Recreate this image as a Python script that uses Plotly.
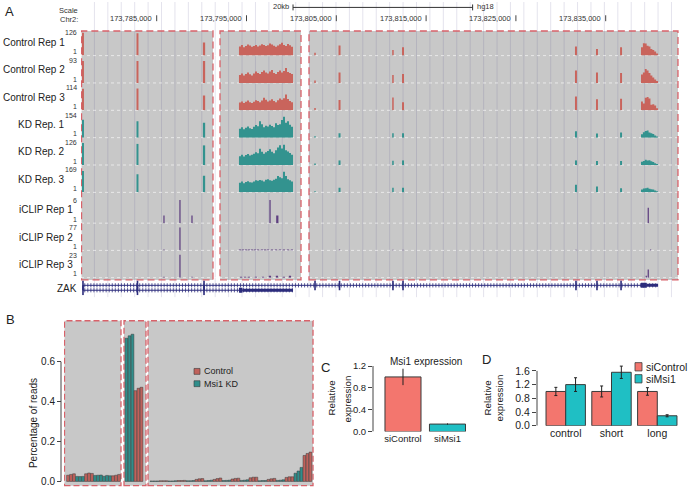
import numpy as np
import plotly.graph_objects as go

W, H = 693, 493
FONT = "Liberation Sans, Arial, Helvetica, sans-serif"

# ======================= DATA =======================
# ---- Panel A : UCSC-style coverage tracks (hg18 chr2, kb) ----
track_names = ["Control Rep 1", "Control Rep 2", "Control Rep 3",
               "KD Rep. 1", "KD Rep. 2", "KD Rep. 3",
               "iCLIP Rep 1", "iCLIP Rep 2", "iCLIP Rep 3"]
track_max = [126, 93, 114, 154, 126, 169, 6, 77, 23]

small_exon_kb = [173776.79, 173782.86, 173790.27, 173802.63, 173805.36,
                 173811.31, 173812.43, 173831.69, 173834.03, 173836.71]
small_exon_w_kb = [0.22, 0.22, 0.25, 0.17, 0.22, 0.17, 0.22, 0.22, 0.22, 0.22]
big_exon_kb = [173794.16, 173800.18]
last_exon_kb = [173838.93, 173840.83]

ctrl1_small = [126, 122, 72, 15, 55, 30, 45, 50, 36, 45]
ctrl2_small = [88, 88, 88, 10, 42, 32, 36, 50, 42, 40]
ctrl3_small = [106, 108, 73, 12, 51, 63, 40, 68, 55, 57]
kd1_small = [120, 110, 99, 10, 30, 30, 30, 43, 28, 34]
kd2_small = [120, 115, 107, 8, 25, 23, 25, 25, 22, 22]
kd3_small = [157, 133, 122, 8, 34, 34, 34, 55, 42, 30]

ctrl1_big = [50, 58, 46, 52, 60, 55, 48, 52, 58, 50, 55, 62, 58, 52, 56, 66, 60, 54, 48, 55, 62, 70, 58, 52, 64, 56, 48]
ctrl2_big = [32, 38, 30, 36, 42, 35, 30, 38, 46, 40, 36, 44, 50, 42, 38, 46, 52, 40, 36, 44, 50, 42, 48, 60, 44, 40, 36]
ctrl3_big = [38, 44, 36, 42, 48, 40, 36, 42, 50, 46, 40, 48, 62, 52, 44, 48, 54, 46, 40, 50, 58, 52, 60, 78, 56, 46, 40]
kd1_big = [60, 70, 56, 66, 74, 62, 58, 72, 84, 76, 110, 90, 70, 80, 74, 86, 78, 70, 96, 84, 90, 118, 140, 100, 110, 86, 72]
kd2_big = [48, 56, 46, 54, 60, 52, 56, 62, 70, 64, 88, 72, 62, 70, 76, 86, 72, 64, 80, 96, 108, 90, 110, 80, 74, 66, 56]
kd3_big = [70, 80, 66, 76, 82, 74, 72, 80, 88, 84, 90, 86, 80, 92, 96, 88, 84, 92, 100, 120, 110, 104, 150, 120, 96, 88, 80]

ctrl1_last = [46, 68, 66, 54, 50, 36, 30, 22, 12]
ctrl2_last = [34, 42, 56, 50, 40, 30, 22, 14, 8]
ctrl3_last = [44, 34, 62, 66, 58, 28, 30, 24, 10]
kd1_last = [22, 36, 44, 48, 34, 30, 24, 14, 8]
kd2_last = [18, 22, 28, 24, 26, 20, 16, 10, 6]
kd3_last = [20, 28, 30, 34, 26, 22, 20, 14, 8]

clip1_kb = [173785.81, 173787.59, 173788.93, 173797.62, 173798.43, 173839.74]
clip1_counts = [2, 6, 2, 6, 2, 4]
clip2_kb = [173782.86, 173785.81, 173787.59,
            173794.27, 173794.60, 173794.94, 173795.27, 173795.61, 173795.94, 173796.28,
            173796.72, 173797.06, 173797.39, 173797.84, 173798.28, 173798.73, 173799.17,
            173799.62, 173800.06, 173805.36, 173811.31, 173812.43, 173831.69, 173840.0]
clip2_counts = [2, 3, 77, 3, 3, 3, 3, 3, 3, 3, 3, 3, 3, 3, 3, 3, 3, 3, 3, 3, 2, 2, 2, 3]
clip3_kb = [173785.81, 173787.59, 173788.93,
            173794.38, 173794.83, 173795.27, 173796.05, 173796.83, 173797.61, 173798.39,
            173799.17, 173799.84, 173839.52, 173839.74]
clip3_counts = [1, 23, 1, 1, 1, 1, 1, 1, 2, 2, 1, 2, 2, 8]

gene_name = "ZAK"
tx1_span_kb = [173776.79, 173840.83]
tx1_exon_kb = small_exon_kb
tx1_cds_kb = [173838.93, 173839.55]
tx1_utr_kb = [173839.55, 173840.83]
tx2_span_kb = [173776.79, 173800.18]
tx2_exon_kb = small_exon_kb[:3]
tx2_cds_kb = [173794.16, 173794.55]
tx2_utr_kb = [173794.55, 173800.18]

pos_ticks_kb = [173785, 173795, 173805, 173815, 173825, 173835]
highlight_kb = [(173776.63, 173791.27), (173792.05, 173801.07), (173801.96, 173843.05)]
scale_start_kb, scale_len_kb = 173800.18, 20

# ---- Panel B : percentage of reads per exon (13 exons x 3 reps) ----
b_box_of_exon = [0, 0, 0, 1, 2, 2, 2, 2, 2, 2, 2, 2, 2]
b_ctrl = [[0.031, 0.035, 0.038], [0.038, 0.042, 0.040], [0.028, 0.031, 0.035],
          [0.455, 0.467, 0.472], [0.003, 0.003, 0.003], [0.004, 0.004, 0.005],
          [0.010, 0.013, 0.014], [0.010, 0.014, 0.017], [0.012, 0.015, 0.016],
          [0.018, 0.021, 0.021], [0.010, 0.013, 0.015], [0.020, 0.023, 0.023],
          [0.130, 0.140, 0.147]]
b_kd = [[0.025, 0.024, 0.025], [0.030, 0.031, 0.032], [0.026, 0.030, 0.028],
        [0.718, 0.730, 0.738], [0.002, 0.002, 0.002], [0.002, 0.002, 0.003],
        [0.003, 0.003, 0.004], [0.003, 0.004, 0.006], [0.004, 0.005, 0.006],
        [0.005, 0.006, 0.008], [0.003, 0.004, 0.004], [0.005, 0.006, 0.008],
        [0.041, 0.052, 0.070]]
b_ctrl_first = [True, True, False] + [False] * 10
b_yticks = [0.0, 0.2, 0.4, 0.6]
b_legend = ["Control", "Msi1 KD"]

# ---- Panel C ----
c_labels = ["siControl", "siMsi1"]
c_vals = [1.0, 0.138]
c_err = [0.15, 0.012]
c_yticks = [0.0, 0.4, 0.8, 1.2]

# ---- Panel D ----
d_groups = ["control", "short", "long"]
d_sicontrol = [1.0, 1.0, 1.0]
d_sicontrol_err = [0.12, 0.16, 0.11]
d_simsi1 = [1.2, 1.56, 0.29]
d_simsi1_err = [0.2, 0.18, 0.03]
d_yticks = [0.0, 0.4, 0.8, 1.2, 1.6]
d_legend = ["siControl", "siMsi1"]

# ======================= STYLE / HELPERS =======================
CTRL = "#c9645c"
KD = "#33938f"
CLIP = "#5e3f80"
NAVY = "#2c2c7c"
BOXGRAY = "#c8c8c8"
BORDER = "#d8626a"
B_RED = "#c0615b"
B_TEAL = "#2f8e8b"
SAL = "#f3766e"
CYAN = "#1fbfc4"
TXT = "#222222"


def PX(px):
    return px / W


def PY(py):
    return 1 - py / H


fig = go.Figure()
shapes = []
ann = []
lay = {}


def label(px, py, s, size, xanchor="center", yanchor="middle", color=TXT, angle=0):
    ann.append(dict(x=PX(px), y=PY(py), xref="paper", yref="paper", text=s, showarrow=False,
                    font=dict(family=FONT, size=size, color=color), xanchor=xanchor,
                    yanchor=yanchor, textangle=angle, borderpad=0))


def yname(i):
    return "yaxis" if i == 1 else "yaxis%d" % i


def yref(i):
    return "y" if i == 1 else "y%d" % i


# ======================= PANEL A =======================
A_X0, A_X1 = 81, 681
KB_PER_PX = 0.11136
kb_left = 173776.57
kb_right = kb_left + (A_X1 - A_X0) * KB_PER_PX
GUIDE_KB = 13.42 * KB_PER_PX
baselines = [54.5, 82.3, 110.1, 137.9, 165.7, 193.5, 224.8, 252.5, 280.2]
TRK_H = 23.5

lay["xaxis"] = dict(domain=[PX(A_X0), PX(A_X1)], range=[kb_left, kb_right], visible=False, anchor="y")
for i in range(9):
    lay[yname(i + 1)] = dict(domain=[PY(baselines[i]), PY(baselines[i] - TRK_H)],
                             range=[0, track_max[i]], visible=False, anchor="x")
lay[yname(10)] = dict(domain=[PY(298), PY(283)], range=[-1, 2], visible=False, anchor="x")

# highlight boxes, guide lines, dashed borders
for a, b in highlight_kb:
    shapes.append(dict(type="rect", xref="x", yref="paper", x0=a, x1=b, y0=PY(282.5), y1=PY(29.5),
                       fillcolor=BOXGRAY, line=dict(width=0), layer="below"))
n_guides = int((kb_right - kb_left) / GUIDE_KB)
for k in range(1, n_guides + 1):
    gx = kb_left + k * GUIDE_KB
    shapes.append(dict(type="line", xref="x", yref="paper", x0=gx, x1=gx, y0=PY(300), y1=PY(0),
                       line=dict(color="rgba(90,80,140,0.16)", width=1), layer="below"))
for bl in baselines:
    shapes.append(dict(type="line", xref="paper", yref="paper", x0=PX(A_X0), x1=PX(A_X1),
                       y0=PY(bl), y1=PY(bl),
                       line=dict(color="rgba(255,255,255,0.6)", width=1, dash="3px,3px"), layer="below"))
for a, b in highlight_kb:
    shapes.append(dict(type="rect", xref="x", yref="paper", x0=a, x1=b, y0=PY(282.5), y1=PY(29.5),
                       fillcolor="rgba(0,0,0,0)", line=dict(color=BORDER, width=1.3, dash="7px,4px"),
                       layer="below"))

# header: scale and positions
label(9.5, 9.5, "A", 13)
label(79, 9, "Scale", 7.5, xanchor="right", color="#333")
label(79, 17.5, "Chr2:", 7.5, xanchor="right", color="#333")
for k in pos_ticks_kb:
    shapes.append(dict(type="line", xref="x", yref="paper", x0=k, x1=k, y0=PY(19.5), y1=PY(13.5),
                       line=dict(color="#444", width=1)))
    ann.append(dict(x=k, y=PY(16.5), xref="x", yref="paper", text="{:,}".format(int(k * 1000)),
                    showarrow=False, xanchor="right", yanchor="middle", xshift=-2.5,
                    font=dict(family=FONT, size=7.5, color="#333")))
s0, s1 = scale_start_kb, scale_start_kb + scale_len_kb
shapes.append(dict(type="line", xref="x", yref="paper", x0=s0, x1=s1, y0=PY(5.5), y1=PY(5.5),
                   line=dict(color="#333", width=1)))
for sx in (s0, s1):
    shapes.append(dict(type="line", xref="x", yref="paper", x0=sx, x1=sx, y0=PY(2.5), y1=PY(8.5),
                       line=dict(color="#333", width=1)))
ann.append(dict(x=s0, y=PY(5), xref="x", yref="paper", text="%dkb" % scale_len_kb, showarrow=False,
                xanchor="right", yanchor="middle", xshift=-2, font=dict(family=FONT, size=7.5, color="#333")))
ann.append(dict(x=s1, y=PY(5), xref="x", yref="paper", text="hg18", showarrow=False,
                xanchor="left", yanchor="middle", xshift=2, font=dict(family=FONT, size=7.5, color="#333")))

# track labels
for i in range(9):
    nx = 66 if i < 6 else 74
    label(nx, baselines[i] - 13.5, track_names[i], 10, xanchor="right")
    label(78, baselines[i] - TRK_H + 0.5, str(track_max[i]), 7, xanchor="right", color="#333")
    label(78, baselines[i] - 4, "1", 7, xanchor="right", color="#333")
label(78, 291, gene_name, 10, xanchor="right")

# coverage traces
cov_small = [ctrl1_small, ctrl2_small, ctrl3_small, kd1_small, kd2_small, kd3_small]
cov_big = [ctrl1_big, ctrl2_big, ctrl3_big, kd1_big, kd2_big, kd3_big]
cov_last = [ctrl1_last, ctrl2_last, ctrl3_last, kd1_last, kd2_last, kd3_last]
for i in range(6):
    col = CTRL if i < 3 else KD
    fig.add_trace(go.Bar(x=small_exon_kb, y=cov_small[i], width=small_exon_w_kb,
                         marker=dict(color=col, line=dict(width=0)), xaxis="x", yaxis=yref(i + 1),
                         hoverinfo="skip"))
    for (start, end), prof in ((big_exon_kb, cov_big[i]), (last_exon_kb, cov_last[i])):
        edges = np.linspace(start, end, len(prof) + 1)
        fig.add_trace(go.Scatter(x=edges, y=list(prof) + [prof[-1]], mode="lines",
                                 line=dict(width=0, shape="hv", color=col), fill="tozeroy",
                                 fillcolor=col, xaxis="x", yaxis=yref(i + 1), hoverinfo="skip"))

for j, (xs, cs) in enumerate(((clip1_kb, clip1_counts), (clip2_kb, clip2_counts), (clip3_kb, clip3_counts))):
    widths = [0.25 if (big_exon_kb[0] <= x <= big_exon_kb[1] and c < 5) else 0.14 for x, c in zip(xs, cs)]
    fig.add_trace(go.Bar(x=xs, y=cs, width=widths, marker=dict(color=CLIP, line=dict(width=0)),
                         xaxis="x", yaxis=yref(7 + j), hoverinfo="skip"))

# gene model
for yv, span, exons, cds, utr in ((1, tx1_span_kb, tx1_exon_kb, tx1_cds_kb, tx1_utr_kb),
                                  (0, tx2_span_kb, tx2_exon_kb, tx2_cds_kb, tx2_utr_kb)):
    fig.add_trace(go.Scatter(x=span, y=[yv, yv], mode="lines", line=dict(color=NAVY, width=1),
                             xaxis="x", yaxis=yref(10), hoverinfo="skip"))
    hx = np.arange(span[0] + 0.2, span[1], 0.34)
    fig.add_trace(go.Scatter(x=hx, y=[yv] * len(hx), mode="markers",
                             marker=dict(symbol="line-ns", size=3, line=dict(width=0.8, color=NAVY)),
                             xaxis="x", yaxis=yref(10), hoverinfo="skip"))
    fig.add_trace(go.Scatter(x=exons, y=[yv] * len(exons), mode="markers",
                             marker=dict(symbol="line-ns", size=7, line=dict(width=1.6, color=NAVY)),
                             xaxis="x", yaxis=yref(10), hoverinfo="skip"))
    fig.add_trace(go.Scatter(x=utr, y=[yv, yv], mode="lines", line=dict(color=NAVY, width=3),
                             xaxis="x", yaxis=yref(10), hoverinfo="skip"))
    fig.add_trace(go.Scatter(x=cds, y=[yv, yv], mode="lines", line=dict(color=NAVY, width=5),
                             xaxis="x", yaxis=yref(10), hoverinfo="skip"))

# ======================= PANEL B =======================
B_Y0PX, B_SCALE = 487.3, 202.7
B_TOP, B_BOT = 324, 491.7
lay["xaxis2"] = dict(domain=[PX(64), PX(314)], range=[-1.33, 82], visible=False, anchor="y11")
lay["yaxis11"] = dict(domain=[PY(B_BOT), PY(B_TOP)],
                      range=[-(B_BOT - B_Y0PX) / B_SCALE, (B_Y0PX - B_TOP) / B_SCALE],
                      anchor="free", position=PX(61), tickvals=b_yticks,
                      ticktext=["%.1f" % t for t in b_yticks], ticks="outside", ticklen=4,
                      tickcolor="#444", tickfont=dict(family=FONT, size=10, color=TXT),
                      showline=False, showgrid=False, zeroline=False)
shapes.append(dict(type="line", xref="paper", yref="y11", x0=PX(61), x1=PX(61), y0=0, y1=b_yticks[-1],
                   line=dict(color="#444", width=1)))
b_box_units = [(-1.17, 17.67), (18.67, 26.0), (26.67, 81.67)]
b_box_first = [0.0, 19.5, 27.8]
for a, b in b_box_units:
    shapes.append(dict(type="rect", xref="x2", yref="paper", x0=a, x1=b, y0=PY(B_BOT), y1=PY(B_TOP),
                       fillcolor=BOXGRAY, line=dict(width=0), layer="below"))
    shapes.append(dict(type="rect", xref="x2", yref="paper", x0=a, x1=b, y0=PY(B_BOT), y1=PY(B_TOP),
                       fillcolor="rgba(0,0,0,0)", line=dict(color=BORDER, width=1.3, dash="6px,3px"),
                       layer="below"))
bx, by, bc = [], [], []
count_in_box = [0, 0, 0]
for g in range(len(b_ctrl)):
    box = b_box_of_exon[g]
    seq = ([(v, B_RED) for v in b_ctrl[g]] + [(v, B_TEAL) for v in b_kd[g]]) if b_ctrl_first[g] \
        else ([(v, B_TEAL) for v in b_kd[g]] + [(v, B_RED) for v in b_ctrl[g]])
    for v, col in seq:
        bx.append(b_box_first[box] + count_in_box[box])
        count_in_box[box] += 1
        by.append(v)
        bc.append(col)
fig.add_trace(go.Bar(x=bx, y=by, width=0.92, marker=dict(color=bc, line=dict(color="#3a3a3a", width=0.5)),
                     xaxis="x2", yaxis="y11", hoverinfo="skip"))
label(10, 323, "B", 13)
label(33, 428, "Percentage of reads", 10, angle=-90)
for k, (name, col) in enumerate(zip(b_legend, [B_RED, B_TEAL])):
    yc = 375.5 + 12.5 * k
    shapes.append(dict(type="rect", xref="paper", yref="paper", x0=PX(194), x1=PX(200),
                       y0=PY(yc + 3), y1=PY(yc - 3), fillcolor=col, line=dict(color="#3a3a3a", width=0.6)))
    label(203, yc, name, 9, xanchor="left")

# ======================= PANEL C =======================
C_Y0PX, C_SCALE = 436.7, (436.7 - 370) / 1.2
lay["xaxis3"] = dict(domain=[PX(373), PX(470)], range=[-0.674, 1.506], anchor="y12",
                     tickvals=[0, 1], ticktext=c_labels, ticks="", showline=False, showgrid=False,
                     zeroline=False, tickfont=dict(family=FONT, size=9.5, color=TXT))
lay["yaxis12"] = dict(domain=[PY(C_Y0PX), PY(366)], range=[0, (C_Y0PX - 366) / C_SCALE], anchor="x3",
                      tickvals=c_yticks, ticktext=["%.1f" % t for t in c_yticks], ticks="outside",
                      ticklen=4, tickcolor="#444", tickfont=dict(family=FONT, size=9.5, color=TXT),
                      showline=False, showgrid=False, zeroline=False)
shapes.append(dict(type="line", xref="paper", yref="y12", x0=PX(373), x1=PX(373), y0=0, y1=c_yticks[-1],
                   line=dict(color="#444", width=1)))
fig.add_trace(go.Bar(x=[0, 1], y=c_vals, width=0.81,
                     marker=dict(color=[SAL, CYAN], line=dict(color="#3a3a3a", width=1)),
                     error_y=dict(type="data", array=c_err, color="#222", thickness=1, width=0),
                     xaxis="x3", yaxis="y12", hoverinfo="skip"))
label(325, 372, "C", 13)
label(426, 365, "Msi1 expression", 10)
label(331, 403, "Relative", 9.7, angle=-90)
label(347, 403, "expression", 9.7, angle=-90)

# ======================= PANEL D =======================
D_Y0PX, D_SCALE = 430.7, (430.7 - 375) / 1.6
lay["xaxis4"] = dict(domain=[PX(537), PX(680)], range=[-0.627, 2.496], anchor="y13",
                     tickvals=[0, 1, 2], ticktext=d_groups, ticks="", showline=False, showgrid=False,
                     zeroline=False, tickfont=dict(family=FONT, size=10.5, color=TXT))
lay["yaxis13"] = dict(domain=[PY(D_Y0PX), PY(366)], range=[0, (D_Y0PX - 366) / D_SCALE], anchor="x4",
                      tickvals=d_yticks, ticktext=["%.1f" % t for t in d_yticks], ticks="outside",
                      ticklen=4, tickcolor="#444", tickfont=dict(family=FONT, size=10.5, color=TXT),
                      showline=False, showgrid=False, zeroline=False)
shapes.append(dict(type="line", xref="paper", yref="y13", x0=PX(537), x1=PX(537), y0=0, y1=d_yticks[-1],
                   line=dict(color="#444", width=1)))
fig.add_trace(go.Bar(x=[0, 1, 2], y=d_sicontrol, width=0.43, offset=-0.43,
                     marker=dict(color=SAL, line=dict(color="#3a3a3a", width=1)),
                     error_y=dict(type="data", array=d_sicontrol_err, color="#222", thickness=1, width=1.5),
                     xaxis="x4", yaxis="y13", hoverinfo="skip"))
fig.add_trace(go.Bar(x=[0, 1, 2], y=d_simsi1, width=0.43, offset=0,
                     marker=dict(color=CYAN, line=dict(color="#3a3a3a", width=1)),
                     error_y=dict(type="data", array=d_simsi1_err, color="#222", thickness=1, width=1.5),
                     xaxis="x4", yaxis="y13", hoverinfo="skip"))
label(486, 363, "D", 13)
label(487, 403, "Relative", 9.7, angle=-90)
label(499, 403, "expression", 9.7, angle=-90)
for k, (name, col) in enumerate(zip(d_legend, [SAL, CYAN])):
    yc = 370.8 + 12.2 * k
    shapes.append(dict(type="rect", xref="paper", yref="paper", x0=PX(635), x1=PX(642),
                       y0=PY(yc + 4.2), y1=PY(yc - 4.2), fillcolor=col, line=dict(color="#3a3a3a", width=0.8)))
    label(644.5, yc, name, 10.5, xanchor="left")

fig.update_layout(width=W, height=H, margin=dict(l=0, r=0, t=0, b=0), paper_bgcolor="white",
                  plot_bgcolor="rgba(0,0,0,0)", showlegend=False, barmode="overlay",
                  hovermode=False, shapes=shapes, annotations=ann,
                  font=dict(family=FONT, color=TXT), **lay)
fig.write_html("out.html", config={"displayModeBar": False, "staticPlot": True},
               post_script="document.body.style.margin='0px';document.body.style.padding='0px';")
